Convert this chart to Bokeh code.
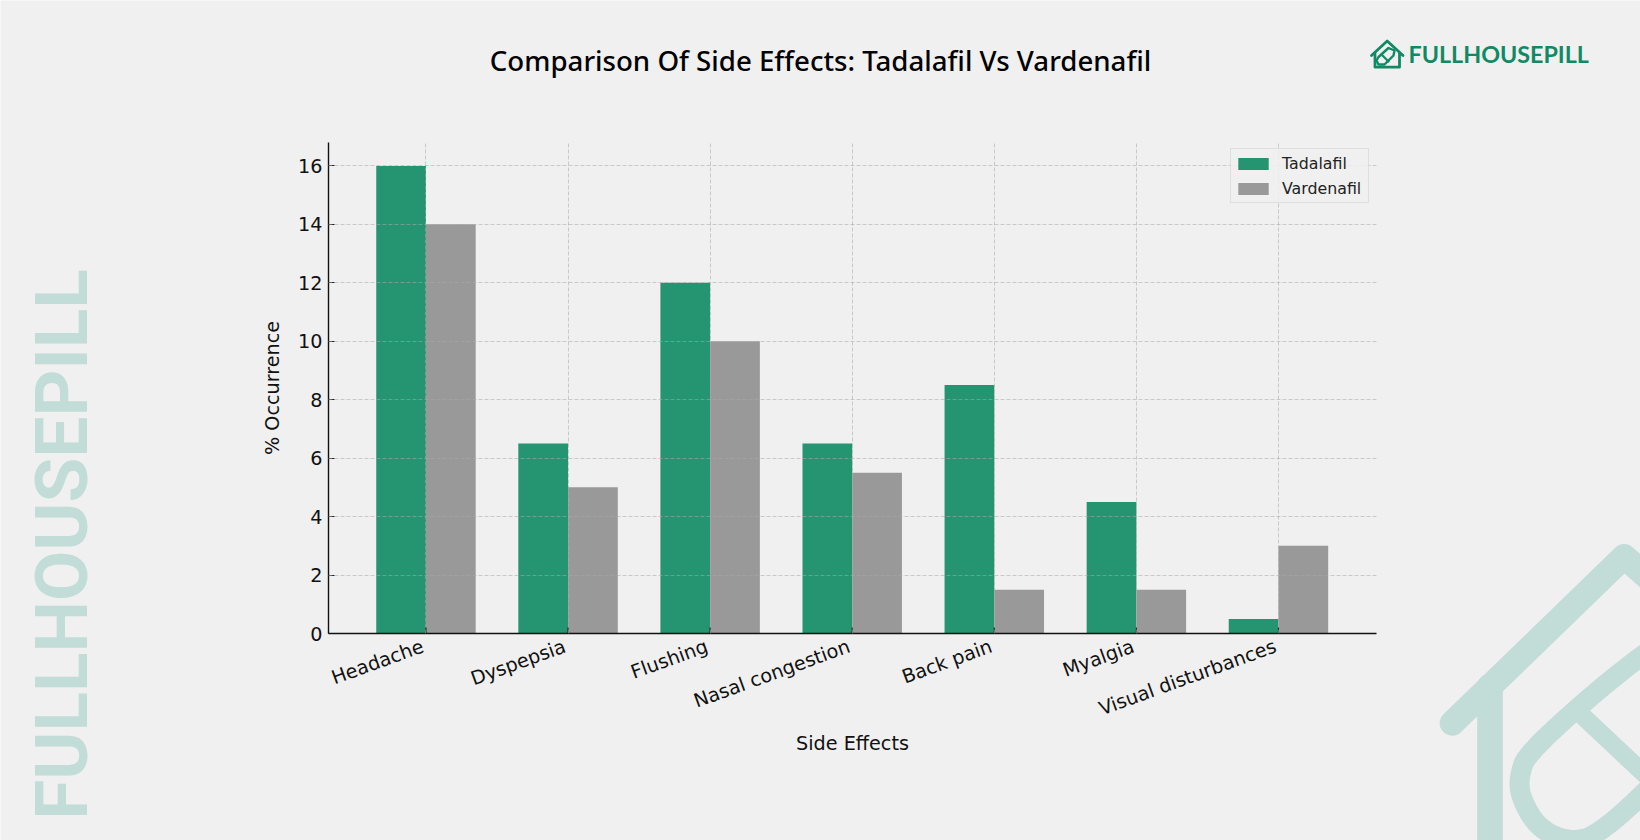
import numpy as np
from bokeh.core.properties import value, field
from bokeh.embed import file_html
from bokeh.resources import INLINE
from bokeh.plotting import figure
from bokeh.models import ColumnDataSource, Range1d, FixedTicker, Legend, LegendItem

categories = ["Headache", "Dyspepsia", "Flushing", "Nasal congestion", "Back pain", "Myalgia", "Visual disturbances"]
tadalafil = [16, 6.5, 12, 6.5, 8.5, 4.5, 0.5]
vardenafil = [14, 5, 10, 5.5, 1.5, 1.5, 3]
y_ticks = [0, 2, 4, 6, 8, 10, 12, 14, 16]
series_names = ["Tadalafil", "Vardenafil"]
title_text = "Comparison Of Side Effects: Tadalafil Vs Vardenafil"
brand = "FULLHOUSEPILL"

BG = "#f0f0f0"; GREEN = "#259470"; GREY = "#999999"; PALE = "#c2dcd7"; LOGO = "#0f8a65"
FL = 328  # frame left on the page
W = 0.35
LABEL_SHIFT = 0.022  # matches the reference's right-aligned tick label anchor

# ---- backdrop: a full-page figure whose data units are page pixels (watermark, logo, heading)
bg = figure(width=1640, height=840, output_backend="svg", toolbar_location=None,
            x_range=Range1d(0, 1640), y_range=Range1d(840, 0), x_axis_location=None, y_axis_location=None,
            min_border=0, background_fill_color=BG, border_fill_color=BG, outline_line_color=None)
bg.grid.visible = False
bg.styles = {"position": "absolute", "left": "0px", "top": "0px"}


def z6(points):
    return [1440 + a / 3 for a, b in points], [530 + b / 3 for a, b in points]


def smooth(points, rounds=3):
    pts = np.asarray(points, float)
    for _ in range(rounds):
        q = pts[:-1] * 0.75 + pts[1:] * 0.25
        r = pts[:-1] * 0.25 + pts[1:] * 0.75
        pts = np.vstack([pts[0], np.column_stack([q, r]).reshape(-1, 2), pts[-1]])
    return pts.tolist()


def stroke(xs, ys, w, color):
    bg.line(xs, ys, line_width=w, line_color=color, line_cap="round", line_join="round")


stroke(*z6([(35, 578), (551, 78), (800, 300)]), 25, PALE)
stroke([1489.5, 1489.5], [686, 880], 25.6, PALE)
stroke(*z6(smooth([(760, 285), (600, 370), (262, 662), (235, 740), (240, 800), (290, 890), (380, 935),
                   (480, 915), (760, 640)], 3)), 20, PALE)
stroke(*z6([(430, 560), (760, 870)]), 18, PALE)

stroke([1371, 1386.7, 1402.5], [55, 40.5, 55], 2.8, LOGO)
stroke([1374.5, 1374.5, 1399, 1399], [53, 66.7, 66.7, 53], 2.8, LOGO)
stroke([1378, 1388, 1394, 1393, 1384, 1378, 1376, 1378], [56.5, 47.5, 50, 55, 64, 64, 60, 56.5], 2.4, LOGO)
stroke([1381, 1388], [54, 61], 2.2, LOGO)

bg.text(x=[1408], y=[53.7], text=[brand], text_font=value("Lato"), text_font_style="bold", text_font_size="23.3px",
        text_color=LOGO, text_align="left", text_baseline="middle")
bg.text(x=[61], y=[544], text=[brand], text_font=value("Roboto"), text_font_style="bold",
        text_font_size="73px", text_color=PALE, angle=np.pi / 2, text_align="center", text_baseline="middle")
head = ColumnDataSource(dict(x=[820], y=[59], t=[title_text], w=["500"]))
bg.text(x="x", y="y", text="t", source=head, text_font=value("Noto Sans"), text_font_style=field("w"),
        text_font_size="27.65px", text_color="#000000", text_align="center", text_baseline="middle")

# ---- the chart, transparent and stacked on top of the backdrop
idx = np.arange(len(categories))
src = ColumnDataSource(dict(x1=idx - W / 2, x2=idx + W / 2, t=tadalafil, v=vardenafil))

p = figure(width=1640, height=840, output_backend="svg", toolbar_location=None,
           x_range=Range1d(-0.686, 6.69), y_range=Range1d(0, 16.8),
           min_border_left=FL, min_border_right=264, min_border_top=142, min_border_bottom=207,
           background_fill_alpha=0, border_fill_alpha=0, outline_line_color=None)
p.styles = {"position": "absolute", "left": "0px", "top": "0px"}

r1 = p.vbar(x="x1", top="t", width=W, source=src, fill_color=GREEN, line_color=None)
r2 = p.vbar(x="x2", top="v", width=W, source=src, fill_color=GREY, line_color=None)

for ax in (p.xaxis[0], p.yaxis[0]):
    ax.axis_line_color = "#111111"; ax.axis_line_width = 1.4
    ax.major_tick_in = 6; ax.major_tick_out = 0; ax.major_tick_line_color = "#111111"
    ax.minor_tick_line_color = None
    ax.major_label_text_font = "DejaVu Sans"; ax.major_label_text_font_size = "19.2px"
    ax.major_label_text_color = "#111111"
    ax.axis_label_text_font = "DejaVu Sans"; ax.axis_label_text_font_size = "19.2px"
    ax.axis_label_text_font_style = "normal"; ax.axis_label_text_color = "#111111"

label_ticks = [round(float(i) - LABEL_SHIFT, 3) for i in idx]
p.xaxis.ticker = FixedTicker(ticks=label_ticks)
p.xaxis.major_label_overrides = dict(zip(label_ticks, categories))
p.xaxis.major_label_orientation = np.deg2rad(20)
p.xaxis.major_tick_in = 0
p.xaxis.axis_label = "Side Effects"
p.xaxis.axis_label_standoff = -2
p.xaxis.major_label_standoff = 12
p.xgrid[0].ticker = FixedTicker(ticks=[int(i) for i in idx])

# category tick marks sit exactly on the categories, pointing into the plot
p.ray(x=[int(i) for i in idx], y=[0] * len(idx), length=6, length_units="screen", angle=np.pi / 2,
      line_color="#111111", line_width=1, level="guide")

p.yaxis.ticker = FixedTicker(ticks=y_ticks)
p.yaxis.axis_label = "% Occurrence"
p.yaxis.axis_label_standoff = 11
p.yaxis.major_label_standoff = 6

for g in p.grid:
    g.level = "guide"
    g.grid_line_color = "#aaaaaa"; g.grid_line_dash = [4, 2]; g.grid_line_width = 1; g.grid_line_alpha = 0.55

legend = Legend(items=[LegendItem(label=series_names[0], renderers=[r1]),
                       LegendItem(label=series_names[1], renderers=[r2])],
                location=(902, 430), orientation="vertical", margin=0, padding=3, spacing=3,
                glyph_width=38, glyph_height=15, label_standoff=10, label_height=22, label_width=83,
                label_text_font="DejaVu Sans", label_text_font_size="15.8px", label_text_color="#222222",
                border_line_color="#cccccc", border_line_width=1,
                background_fill_color=BG, background_fill_alpha=0.85)
p.add_layout(legend)

open("out.html", "w").write(file_html([bg, p], INLINE))
